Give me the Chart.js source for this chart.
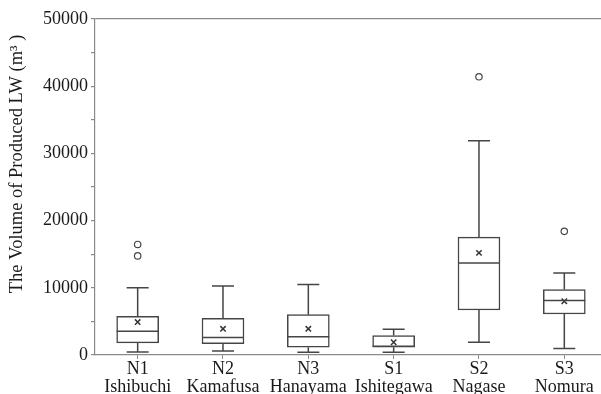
<!DOCTYPE html>
<html>
<head>
<meta charset="utf-8">
<script src="https://cdn.jsdelivr.net/npm/chart.js@4.4.1/dist/chart.umd.min.js"></script>
<style>
  html, body { margin: 0; padding: 0; background: #fff; }
  #wrap { width: 601px; height: 394px; }
</style>
</head>
<body>
<div id="wrap"><canvas id="chart-lw"></canvas></div>
<script>
// Volume of produced LW per site (m3)
const CODES = ['N1', 'N2', 'N3', 'S1', 'S2', 'S3'];
const SITES = ['Ishibuchi', 'Kamafusa', 'Hanayama', 'Ishitegawa', 'Nagase', 'Nomura'];
const WHISKER_BAS = [450, 600, 400, 400, 1900, 950];
const Q1 = [1800, 1700, 1150, 1150, 6700, 6100];
const MEDIANE = [3550, 2600, 2700, 1300, 13700, 8100];
const Q3 = [5750, 5450, 6000, 2900, 17550, 9750];
const WHISKER_HAUT = [10000, 10250, 10500, 3850, 31900, 12200];
const MOYENNE = [4900, 3900, 3900, 1900, 15200, 8000];
const ABERRANTS = [[16450, 14750], [], [], [], [41400], [18400]];
const Y_LABELS = [0, 10000, 20000, 30000, 40000, 50000];
const Y_MINOR = [5000, 15000, 25000, 35000, 45000];

const COULEUR_TRAIT = '#454545';
const COULEUR_AXE = '#8a8a8a';
const POLICE = 'Liberation Serif, Times New Roman, serif';

const pointsBoites = CODES.map((c, i) => ({ x: i + 1, y: [Q1[i], Q3[i]] }));
const pointsMoyenne = CODES.map((c, i) => ({ x: i + 1, y: MOYENNE[i] }));
const pointsAberrants = [];
ABERRANTS.forEach((liste, i) => liste.forEach((v) => pointsAberrants.push({ x: i + 1, y: v })));

// medianes + moustaches, placées avec les échelles du graphique
const moustaches = {
  id: 'moustaches',
  afterDatasetsDraw(chart) {
    const { ctx } = chart;
    const sx = chart.scales.x;
    const sy = chart.scales.y;
    const meta = chart.getDatasetMeta(0);
    ctx.save();
    ctx.strokeStyle = COULEUR_TRAIT;
    ctx.lineWidth = 1.5;
    CODES.forEach((c, i) => {
      const x = sx.getPixelForValue(i + 1);
      const demi = meta.data[i].width / 2;
      const cap = 11;
      const yMed = sy.getPixelForValue(MEDIANE[i]);
      ctx.beginPath();
      ctx.moveTo(x - demi, yMed);
      ctx.lineTo(x + demi, yMed);
      // moustache haute
      ctx.moveTo(x, sy.getPixelForValue(Q3[i]));
      ctx.lineTo(x, sy.getPixelForValue(WHISKER_HAUT[i]));
      ctx.moveTo(x - cap, sy.getPixelForValue(WHISKER_HAUT[i]));
      ctx.lineTo(x + cap, sy.getPixelForValue(WHISKER_HAUT[i]));
      // moustache basse
      ctx.moveTo(x, sy.getPixelForValue(Q1[i]));
      ctx.lineTo(x, sy.getPixelForValue(WHISKER_BAS[i]));
      ctx.moveTo(x - cap, sy.getPixelForValue(WHISKER_BAS[i]));
      ctx.lineTo(x + cap, sy.getPixelForValue(WHISKER_BAS[i]));
      ctx.stroke();
    });
    ctx.restore();
  },
};

new Chart(document.getElementById('chart-lw'), {
  type: 'bar',
  data: {
    datasets: [
      {
        label: 'Boîtes',
        data: pointsBoites,
        backgroundColor: '#ffffff',
        borderColor: COULEUR_TRAIT,
        borderWidth: 1.5,
        borderSkipped: false,
        barThickness: 42,
        order: 3,
      },
      {
        type: 'scatter',
        label: 'Moyenne',
        data: pointsMoyenne,
        pointStyle: 'crossRot',
        pointRadius: 3.8,
        borderColor: '#333333',
        borderWidth: 1.5,
        order: 1,
      },
      {
        type: 'scatter',
        label: 'Valeurs aberrantes',
        data: pointsAberrants,
        pointStyle: 'circle',
        pointRadius: 3.2,
        backgroundColor: '#ffffff',
        borderColor: COULEUR_TRAIT,
        borderWidth: 1.2,
        order: 2,
      },
    ],
  },
  options: {
    responsive: true,
    maintainAspectRatio: false,
    animation: false,
    layout: { autoPadding: false, padding: { top: 19, right: 0, left: 0, bottom: 0 } },
    plugins: {
      legend: { display: false },
      tooltip: { enabled: false },
    },
    scales: {
      x: {
        type: 'linear',
        offset: false,
        min: 0.5,
        max: 6.43,
        afterBuildTicks: (s) => { s.ticks = CODES.map((c, i) => ({ value: i + 1 })); },
        afterFit: (s) => {
          s.height = 39;
          s.paddingLeft = 0;
          s.paddingRight = 0;
        },
        ticks: {
          autoSkip: false,
          maxRotation: 0,
          padding: 1,
          color: '#1a1a1a',
          font: { family: POLICE, size: 18, lineHeight: 1.0 },
          callback: (v) => [CODES[v - 1], SITES[v - 1]],
        },
        grid: { offset: false, drawOnChartArea: false, tickLength: 4, color: COULEUR_AXE },
        border: { color: COULEUR_AXE, width: 1.2 },
      },
      y: {
        min: 0,
        max: 50000,
        afterBuildTicks: (s) => {
          s.ticks = Y_LABELS.concat(Y_MINOR).sort((a, b) => a - b).map((v) => ({ value: v }));
        },
        afterFit: (s) => { s.width = 95; },
        ticks: {
          padding: 3,
          color: '#1a1a1a',
          font: { family: POLICE, size: 18 },
          callback: (v) => (Y_LABELS.includes(v) ? String(v) : ''),
        },
        grid: {
          drawOnChartArea: true,
          tickLength: 4,
          color: (c) => (c.tick && c.tick.value === 50000 ? COULEUR_AXE : 'rgba(0,0,0,0)'),
          tickColor: COULEUR_AXE,
          lineWidth: 1.2,
        },
        border: { color: COULEUR_AXE, width: 1.2 },
        title: {
          display: true,
          text: '          The Volume of Produced LW (m³ )',
          color: '#1a1a1a',
          font: { family: POLICE, size: 18.5 },
          padding: { top: 6, bottom: 0 },
        },
      },
    },
  },
  plugins: [moustaches],
});
</script>
</body>
</html>
